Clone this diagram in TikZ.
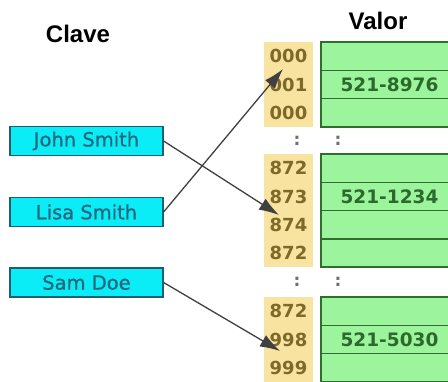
\documentclass[tikz,border=0pt]{standalone}
\usepackage{fontspec}
\newfontfamily\titlefont{Liberation Sans}
\newfontfamily\dejavu{DejaVu Sans}
\newfontfamily\dejavumid[FakeBold=1]{DejaVu Sans}
\usetikzlibrary{arrows.meta}

\definecolor{keyfill}{RGB}{10,236,246}
\definecolor{keyline}{RGB}{30,94,110}
\definecolor{keytext}{RGB}{38,104,126}
\definecolor{cellfill}{RGB}{156,245,156}
\definecolor{cellline}{RGB}{47,110,47}
\definecolor{celltext}{RGB}{44,106,44}
\definecolor{idxfill}{RGB}{248,228,160}
\definecolor{idxtext}{RGB}{125,106,42}
\definecolor{ptr}{RGB}{64,64,64}

\tikzset{
  key/.style={draw=keyline, fill=keyfill, line width=1.2pt, minimum width=153pt,
    minimum height=29pt, inner sep=0pt, text=keytext, font=\dejavumid\fontsize{19.5}{20}\selectfont},
  idx/.style={fill=idxfill, minimum width=49pt, minimum height=28.3pt, inner sep=0pt,
    text=idxtext, font=\dejavu\bfseries\fontsize{18}{18}\selectfont},
  cell/.style={draw=cellline, fill=cellfill, line width=1.6pt, minimum width=137pt,
    minimum height=28.3pt, inner sep=0pt, text=celltext, font=\dejavu\bfseries\fontsize{18.5}{18}\selectfont},
  dots/.style={text=ptr!75, font=\dejavu\bfseries\fontsize{17}{17}\selectfont},
  title/.style={font=\titlefont\bfseries\fontsize{24}{24}\selectfont},
  ptrline/.style={draw=ptr, line width=1.3pt, -{Latex[length=20pt,width=13pt]}}
}

\begin{document}
\begin{tikzpicture}[x=1pt,y=-1pt]
  \clip (0,0) rectangle (448,381);
  \fill[white] (0,0) rectangle (448,381);

  % titles
  \node[title] (clave) at (78,34) {Clave};
  \node[title] (valor) at (378,21) {Valor};

  % keys
  \node[key] (john) at (86.5,141) {John Smith};
  \node[key] (lisa) at (86.5,212) {Lisa Smith};
  \node[key] (sam) at (86.5,282.5) {Sam Doe};

  % first block
  \node[idx] (iA) at (288.5,56.2) {000};
  \node[idx] (iB) at (288.5,84.5) {001};
  \node[idx] (iC) at (288.5,112.8) {000};
  \node[cell] (cA) at (389.5,56.2) {};
  \node[cell] (cB) at (389.5,84.5) {521-8976};
  \node[cell] (cC) at (389.5,112.8) {};
  \node[dots] (dA) at (297,141) {:};
  \node[dots] (dB) at (338,141) {:};

  % second block
  \node[idx] (iD) at (288.5,168.2) {872};
  \node[idx] (iE) at (288.5,196.5) {873};
  \node[idx] (iF) at (288.5,224.8) {874};
  \node[idx] (iG) at (288.5,253.1) {872};
  \node[cell] (cD) at (389.5,168.2) {};
  \node[cell] (cE) at (389.5,196.5) {521-1234};
  \node[cell] (cF) at (389.5,224.8) {};
  \node[cell] (cG) at (389.5,253.1) {};
  \node[dots] (dC) at (297,282) {:};
  \node[dots] (dD) at (338,282) {:};

  % third block
  \node[idx] (iH) at (288.5,311.2) {872};
  \node[idx] (iI) at (288.5,339.5) {998};
  \node[idx] (iJ) at (288.5,367.8) {999};
  \node[cell] (cH) at (389.5,311.2) {};
  \node[cell] (cI) at (389.5,339.5) {521-5030};
  \node[cell] (cJ) at (389.5,367.8) {};

  % pointers
  \coordinate (tipJohn) at (279,215);
  \coordinate (tipLisa) at (283,69);
  \coordinate (tipSam) at (280,351);
  \draw[ptrline] (john.east) -- (tipJohn);
  \draw[ptrline] (lisa.east) -- (tipLisa);
  \draw[ptrline] (sam.east) -- (tipSam);
\end{tikzpicture}
\end{document}
